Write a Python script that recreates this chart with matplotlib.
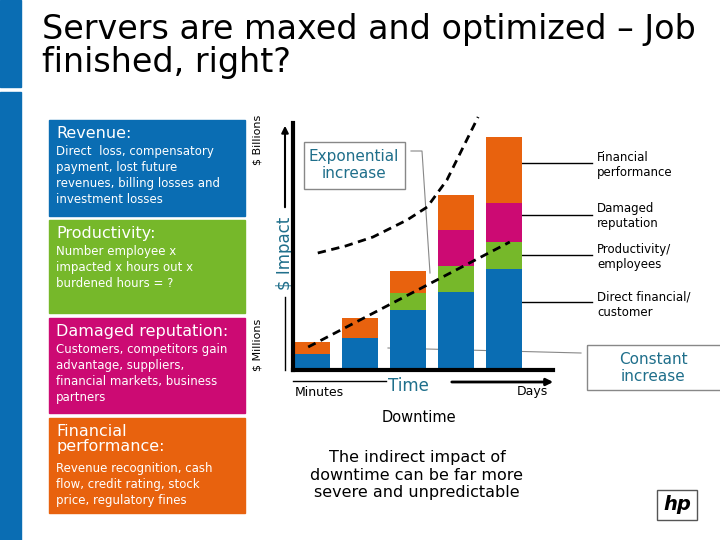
import matplotlib
matplotlib.use("Agg")
import matplotlib.pyplot as plt
from matplotlib.patches import Rectangle

BLUE = "#0a6db3"
GREEN = "#76b82a"
MAGENTA = "#cc0a73"
ORANGE = "#e8620e"
TEAL = "#1f6f8b"

# stacked bar heights (arbitrary units, minutes -> days)
direct = [16, 32, 60, 78, 101]
productivity = [0, 0, 17, 26, 27]
reputation = [0, 0, 0, 36, 39]
financial = [12, 20, 22, 35, 66]

# dashed trend curves in bar-axis data units
exp_x = [0.12, 0.7, 1.27, 1.98, 2.40, 2.81, 3.15, 3.46]
exp_y = [117, 124, 133, 150, 163, 190, 223, 253]
lin_x = [-0.08, 4.12]
lin_y = [23, 128]

seg_labels = ["Financial\nperformance", "Damaged\nreputation",
              "Productivity/\nemployees", "Direct financial/\ncustomer"]

panels = [
    ("Revenue:", "Direct  loss, compensatory\npayment, lost future\nrevenues, billing losses and\ninvestment losses", BLUE, 120, 216),
    ("Productivity:", "Number employee x\nimpacted x hours out x\nburdened hours = ?", GREEN, 220, 313),
    ("Damaged reputation:", "Customers, competitors gain\nadvantage, suppliers,\nfinancial markets, business\npartners", MAGENTA, 318, 413),
    ("Financial\nperformance:", "Revenue recognition, cash\nflow, credit rating, stock\nprice, regulatory fines", ORANGE, 418, 513),
]

W, H = 720, 540
fig = plt.figure(figsize=(7.2, 5.4), dpi=100)
ov = fig.add_axes([0, 0, 1, 1])
ov.set_xlim(0, W)
ov.set_ylim(H, 0)
ov.axis("off")

# side bar + title
ov.add_patch(Rectangle((0, 0), 21, 87, color=BLUE))
ov.add_patch(Rectangle((0, 92), 21, 448, color=BLUE))
ov.text(42, 13, "Servers are maxed and optimized \u2013 Job\nfinished, right?",
        fontsize=24, va="top", ha="left", linespacing=1.0)

for head, body, col, y0, y1 in panels:
    ov.add_patch(Rectangle((49, y0), 196, y1 - y0, color=col))
    ov.text(56, y0 + 6, head, color="white", fontsize=11.5, va="top", linespacing=1.0)
    nl = head.count("\n") + 1
    ov.text(56, y0 + 6 + 19 * nl, body, color="white", fontsize=8.5,
            va="top", linespacing=1.3)

# chart axes: baseline y=370, top y=123, x from 293 to 553
x0, x1, yb, yt = 293, 553, 370, 123
ax = fig.add_axes([x0 / W, 1 - yb / H, (x1 - x0) / W, (yb - yt) / H])
idx = list(range(len(direct)))
bottom = [0] * len(idx)
for vals, col in [(direct, BLUE), (productivity, GREEN), (reputation, MAGENTA), (financial, ORANGE)]:
    ax.bar(idx, vals, bottom=bottom, width=0.75, color=col, zorder=2)
    bottom = [b + v for b, v in zip(bottom, vals)]
ax.set_xlim(-0.396, 5.02)
ax.set_ylim(0, 247)
ax.plot(exp_x, exp_y, "k--", lw=2, dashes=(3, 2), clip_on=False, zorder=3)
ax.plot(lin_x, lin_y, "k--", lw=2, dashes=(3, 2), clip_on=False, zorder=3)
for s in ["top", "right"]:
    ax.spines[s].set_visible(False)
ax.spines["left"].set_linewidth(3)
ax.spines["bottom"].set_linewidth(3)
ax.set_xticks([])
ax.set_yticks([])
ax.patch.set_alpha(0)

# y axis annotations
ov.text(257, 140, "$ Billions", rotation=90, fontsize=8, ha="center", va="center")
ov.text(257, 345, "$ Millions", rotation=90, fontsize=8, ha="center", va="center")
ov.text(285, 253, "$ Impact", rotation=90, fontsize=12, color=TEAL, ha="center", va="center")
ov.annotate("", xy=(285, 123), xytext=(285, 210),
            arrowprops=dict(arrowstyle="-|>", color="black", lw=1.5))
ov.plot([285, 285], [297, 370], color="black", lw=1)

# x axis annotations
ov.plot([293, 386], [381, 381], color="black", lw=1)
ov.annotate("", xy=(556, 382), xytext=(449, 382),
            arrowprops=dict(arrowstyle="-|>", color="black", lw=2))
ov.text(408, 386, "Time", fontsize=12, color=TEAL, ha="center", va="center")
ov.text(295, 392, "Minutes", fontsize=9, ha="left", va="center")
ov.text(548, 392, "Days", fontsize=9, ha="right", va="center")
ov.text(419, 417, "Downtime", fontsize=10.5, ha="center", va="center")
ov.text(417, 475, "The indirect impact of\ndowntime can be far more\nsevere and unpredictable",
        fontsize=11.5, ha="center", va="center", linespacing=1.2)

# callout boxes
ov.add_patch(Rectangle((304, 142), 101, 47, fill=False, ec="#888888", lw=1))
ov.text(354, 165, "Exponential\nincrease", fontsize=11, color=TEAL, ha="center", va="center")
ov.plot([411, 422, 430], [151, 151, 273], color="#888888", lw=0.8)
ov.add_patch(Rectangle((587, 345), 135, 45, fill=False, ec="#888888", lw=1))
ov.text(653, 368, "Constant\nincrease", fontsize=11, color=TEAL, ha="center", va="center")
ov.plot([388, 581], [348, 353], color="#888888", lw=0.8)

# segment labels with leader lines
lab_y = [165, 216, 257, 305]
line_y = [163, 215, 255, 302]
for txt, ly, yy in zip(seg_labels, lab_y, line_y):
    ov.plot([522, 592], [yy, yy], color="black", lw=1)
    ov.text(597, ly, txt, fontsize=8.5, ha="left", va="center", linespacing=1.2)

# logo
ov.add_patch(Rectangle((657, 490), 40, 30, fill=False, ec="#555555", lw=1))
ov.text(677, 505, "hp", fontsize=14, fontstyle="italic", fontweight="bold", ha="center", va="center")

fig.savefig("out.png", dpi=100)
